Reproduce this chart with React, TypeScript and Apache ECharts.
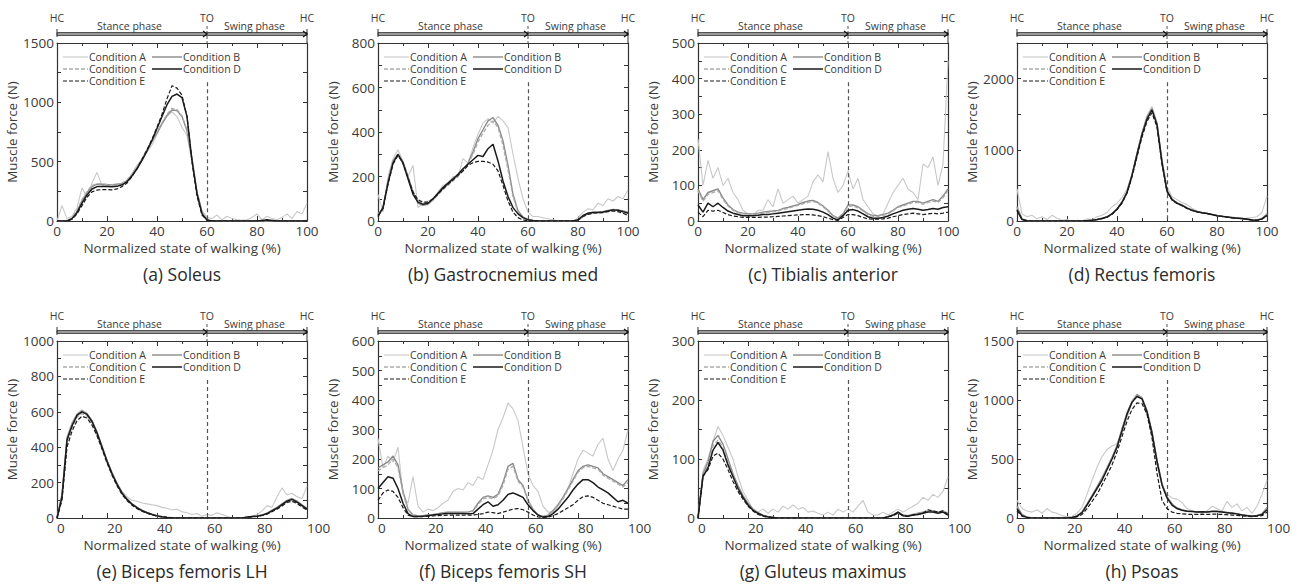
import React, { useEffect, useRef } from 'react';
import * as echarts from 'echarts';

const X = [0, 2, 4, 6, 8, 10, 12, 14, 16, 18, 20, 22, 24, 26, 28, 30, 32, 34, 36, 38, 40, 42, 44, 46, 48, 50, 52, 54, 56, 58, 60, 62, 64, 66, 68, 70, 72, 74, 76, 78, 80, 82, 84, 86, 88, 90, 92, 94, 96, 98, 100];
const NAMES = ['Condition A', 'Condition B', 'Condition C', 'Condition D', 'Condition E'];
const TITLES = ['(a) Soleus', '(b) Gastrocnemius med', '(c) Tibialis anterior', '(d) Rectus femoris', '(e) Biceps femoris LH', '(f) Biceps femoris SH', '(g) Gluteus maximus', '(h) Psoas'];
const Y_MAX = [1500, 800, 500, 2500, 1000, 600, 300, 1500];
const Y_TICK = [250, 100, 50, 500, 100, 50, 50, 125];
const Y_LABEL = [500, 200, 100, 1000, 200, 100, 100, 500];
const TO_AT = 60;
const X_NAME = 'Normalized state of walking (%)';
const Y_NAME = 'Muscle force (N)';

// (a) Soleus
const SOL_A = [0,130,20,40,110,280,200,320,410,300, 300,290,300,320,330,400,470,520,580,640, 730,820,880,920,880,790,720,500,250,90, 30,20,50,10,40,20,10,5,10,30, 60,10,40,20,10,30,60,20,80,60, 150];
const SOL_B = [0,0,0,20,80,170,240,290,310,310, 305,305,310,315,340,390,450,520,600,670, 740,820,890,935,930,880,760,520,240,70, 10,0,0,0,0,0,0,0,0,0, 0,0,0,0,0,0,0,0,0,0, 5];
const SOL_C = [0,0,5,25,90,180,250,300,315,312, 308,305,310,318,345,395,455,525,600,675, 750,830,900,950,940,885,770,530,250,75, 12,2,0,0,0,0,0,0,0,0, 0,0,0,0,0,0,0,0,0,0, 5];
const SOL_D = [0,0,0,20,70,150,220,270,290,290, 290,288,292,305,330,380,440,510,590,680, 780,880,980,1050,1070,1040,880,510,230,60, 8,0,0,0,0,0,0,0,0,0, 0,5,10,5,0,0,0,0,0,0, 0];
const SOL_E = [0,0,0,15,60,130,200,245,260,265, 265,262,270,290,320,375,440,520,600,690, 790,900,1030,1140,1120,1060,880,500,210,50, 5,0,0,0,0,0,0,0,0,0, 0,0,5,0,0,0,0,0,0,0, 0];

// (b) Gastrocnemius med
const GAS_A = [120,40,200,280,320,270,200,250,60,80, 90,95,130,160,170,200,200,280,260,330, 390,440,460,440,470,450,420,300,190,100, 40,20,20,15,10,5,0,0,0,0, 15,40,55,50,80,70,100,90,110,100, 140];
const GAS_B = [30,60,180,270,300,265,200,130,80,70, 75,95,120,145,165,185,205,230,260,310, 370,410,450,465,430,360,250,120,45,18, 5,2,0,0,0,0,0,0,0,0, 5,20,35,40,40,42,48,52,50,45, 40];
const GAS_C = [30,60,175,265,295,260,200,135,90,80, 80,95,118,140,160,180,200,225,255,300, 355,395,430,450,420,340,230,110,40,15, 5,2,0,0,0,0,0,0,0,0, 5,18,32,38,40,40,45,50,48,42, 38];
const GAS_D = [20,60,170,260,300,260,190,120,85,75, 80,100,125,150,170,190,210,235,255,275, 295,290,325,345,270,180,110,60,32,15, 6,2,0,0,0,0,0,0,0,0, 5,25,35,38,38,40,45,50,48,42, 35];
const GAS_E = [25,55,165,255,295,260,195,130,95,85, 85,100,120,145,165,185,205,225,250,262, 268,268,265,255,225,160,90,40,15,5, 0,0,0,0,0,0,0,0,0,0, 5,20,30,35,36,38,42,45,42,35, 25];

// (c) Tibialis anterior
const TIB_A = [230,100,170,120,150,100,120,80,60,30, 20,15,30,30,60,40,90,50,60,70, 50,60,70,110,130,110,195,120,80,100, 140,90,120,60,40,20,15,20,50,80, 100,120,90,80,60,160,150,180,100,160, 450];
const TIB_B = [90,60,80,85,90,65,45,32,25,22, 20,20,22,25,27,28,30,35,38,42, 46,52,56,58,52,42,30,15,8,20, 45,45,40,30,20,15,15,18,22,30, 40,45,50,55,55,50,55,60,55,70, 90];
const TIB_C = [85,55,75,80,85,60,42,30,23,20, 18,18,20,22,24,26,28,32,35,40, 44,48,52,55,50,40,28,14,7,18, 42,42,37,28,18,13,13,16,20,28, 38,42,47,52,52,47,52,56,52,65, 85];
const TIB_D = [45,25,50,40,50,38,28,22,18,15, 15,15,16,18,18,20,22,24,26,28, 30,32,34,33,30,25,18,8,3,15, 30,32,28,20,12,8,8,10,14,20, 25,30,33,35,33,30,32,35,33,38, 40];
const TIB_E = [25,12,30,28,30,24,18,14,12,10, 10,10,10,11,11,12,13,14,15,16, 17,18,18,17,15,12,8,4,2,10, 18,18,15,10,6,5,5,6,8,12, 15,18,20,22,20,18,20,22,20,22, 25];

// (d) Rectus femoris
const REC_A = [450,100,60,80,30,60,20,80,40,10, 20,0,10,0,30,20,60,80,120,200, 250,330,450,650,960,1250,1480,1610,1380,880, 480,340,300,260,230,180,140,120,110,90, 80,60,50,60,40,30,40,50,60,120, 350];
const REC_B = [200,30,5,0,0,0,0,0,0,0, 0,0,0,0,5,10,22,38,60,105, 170,270,410,650,950,1230,1460,1580,1370,830, 430,310,255,225,185,155,135,118,108,92, 78,68,58,48,42,36,28,18,12,35, 100];
const REC_C = [180,25,5,0,0,0,0,0,0,0, 0,0,0,0,5,10,22,36,58,102, 168,265,405,645,940,1220,1445,1570,1360,825, 425,305,252,222,182,152,132,116,106,91, 76,66,56,46,41,35,26,16,11,32, 90];
const REC_D = [150,20,5,0,0,0,0,0,0,0, 0,0,0,0,5,10,20,35,55,100, 165,260,400,640,930,1210,1430,1560,1350,820, 420,300,250,220,180,150,130,115,105,90, 75,65,55,45,40,35,25,15,10,30, 80];
const REC_E = [160,20,5,0,0,0,0,0,0,0, 0,0,0,0,5,10,18,32,52,95, 160,250,390,620,900,1180,1400,1520,1320,800, 410,295,245,215,175,148,128,112,102,88, 74,64,54,44,39,34,24,14,9,28, 75];

// (e) Biceps femoris LH
const BFL_A = [0,140,460,540,590,610,590,550,490,410, 330,260,200,150,120,100,95,85,80,75, 70,60,55,45,50,35,30,20,25,10, 20,15,30,20,10,0,0,0,5,10, 20,40,70,60,120,170,130,140,120,110, 180];
const BFL_B = [0,130,450,530,585,605,590,550,485,405, 325,255,195,145,108,80,60,44,32,22, 13,8,4,2,0,0,0,0,0,0, 0,0,0,0,0,0,0,0,5,8, 12,18,28,45,60,80,100,110,95,75, 55];
const BFL_C = [0,115,430,510,570,590,575,535,470,395, 318,248,188,138,103,76,56,40,28,19, 11,6,3,1,0,0,0,0,0,0, 0,0,0,0,0,0,0,0,4,7, 10,15,25,40,55,72,92,100,88,68, 48];
const BFL_D = [0,120,440,520,580,600,585,545,480,400, 320,250,190,140,105,78,58,42,30,20, 12,7,3,1,0,0,0,0,0,0, 0,0,0,0,0,0,0,0,5,8, 10,15,25,40,55,75,95,105,90,70, 50];
const BFL_E = [0,100,400,490,550,575,565,525,465,390, 312,242,182,133,98,72,53,38,27,18, 10,6,3,1,0,0,0,0,0,0, 0,0,0,0,0,0,0,0,4,6, 9,14,22,36,50,68,88,95,82,62, 45];

// (f) Biceps femoris SH
const BFS_A = [270,170,210,190,240,80,50,140,40,20, 30,25,35,50,60,90,100,95,120,110, 140,130,180,230,300,340,390,370,330,240, 150,110,90,40,20,20,40,70,100,150, 200,230,220,210,250,270,200,160,200,230, 300];
const BFS_B = [170,180,190,210,180,90,30,10,8,8, 10,12,15,18,20,20,20,20,20,25, 50,70,75,70,80,120,175,185,130,110, 60,30,10,5,10,25,45,70,100,130, 160,175,180,175,170,150,140,130,120,110, 130];
const BFS_C = [160,170,180,200,170,85,28,10,8,8, 10,12,14,17,19,19,19,19,19,23, 45,65,70,65,75,110,165,175,125,105, 58,28,9,5,9,23,42,65,95,125, 155,170,175,170,165,145,135,125,115,105, 120];
const BFS_D = [100,120,140,135,100,50,15,5,5,6, 8,10,12,14,15,15,15,15,14,15, 30,45,55,40,45,60,80,85,78,70, 45,25,10,3,5,15,30,50,70,95, 115,130,130,120,105,95,85,70,55,60, 50];
const BFS_E = [60,85,95,90,70,35,10,5,5,5, 6,7,8,9,10,10,10,10,10,10, 12,15,20,18,15,20,25,30,32,28, 20,10,4,2,3,8,15,25,35,45, 60,72,75,70,60,50,45,40,35,30, 30];

// (g) Gluteus maximus
const GLU_A = [0,80,100,130,155,140,120,100,70,45, 30,15,10,15,8,15,10,20,15,22, 15,18,10,12,8,5,10,5,15,10, 15,10,20,30,10,5,5,10,5,10, 15,10,15,20,25,35,30,40,35,45, 70];
const GLU_B = [0,75,95,130,140,125,100,75,55,38, 25,15,9,5,2,1,0,0,0,0, 0,0,0,0,0,0,0,0,0,0, 0,0,0,0,0,0,0,0,2,5, 10,5,4,6,8,10,12,12,10,12, 8];
const GLU_C = [0,72,90,122,132,120,95,72,52,36, 23,14,8,4,2,1,0,0,0,0, 0,0,0,0,0,0,0,0,0,0, 0,0,0,0,0,0,0,0,2,5, 9,4,4,6,7,9,11,11,9,11, 7];
const GLU_D = [0,70,85,115,128,115,90,70,50,35, 22,13,8,4,2,1,0,0,0,0, 0,0,0,0,0,0,0,0,0,0, 0,0,0,0,0,0,0,0,2,5, 10,4,3,5,6,8,10,10,8,10, 5];
const GLU_E = [0,72,82,105,110,100,82,62,45,32, 20,12,6,3,1,0,0,0,0,0, 0,0,0,0,0,0,0,0,0,0, 0,0,0,0,0,0,0,0,2,4, 8,4,3,5,6,8,14,12,10,12, 6];

// (h) Psoas
const PSO_A = [150,80,60,50,70,40,80,50,40,20, 10,15,40,90,200,320,430,520,580,610, 630,720,850,980,1050,1000,880,690,450,280, 200,170,160,130,80,60,50,40,60,100, 80,60,140,90,120,60,90,40,100,200, 320];
const PSO_B = [100,30,8,0,0,0,0,0,0,0, 0,5,18,50,120,190,265,340,425,515, 615,755,890,990,1045,1020,910,730,490,290, 180,120,85,68,60,57,52,54,52,57, 57,52,47,42,37,27,22,17,22,35, 90];
const PSO_C = [90,25,6,0,0,0,0,0,0,0, 0,5,16,47,115,185,258,330,418,508, 608,748,885,985,1040,1015,905,725,485,285, 175,115,82,66,58,56,51,53,51,56, 56,51,46,41,36,26,21,16,21,32, 80];
const PSO_D = [80,20,5,0,0,0,0,0,0,0, 0,5,15,45,110,180,250,320,410,500, 600,740,880,980,1030,1010,900,720,480,280, 170,110,80,65,58,55,50,52,50,55, 55,50,45,40,35,25,20,15,20,30, 70];
const PSO_E = [60,15,3,0,0,0,0,0,0,0, 0,3,10,30,80,140,200,280,360,450, 560,690,820,920,975,970,880,680,380,150, 80,50,40,35,32,30,30,32,30,32, 32,30,28,25,22,18,15,12,15,20, 50];

const PANEL_DATA = [
  [SOL_A, SOL_B, SOL_C, SOL_D, SOL_E],
  [GAS_A, GAS_B, GAS_C, GAS_D, GAS_E],
  [TIB_A, TIB_B, TIB_C, TIB_D, TIB_E],
  [REC_A, REC_B, REC_C, REC_D, REC_E],
  [BFL_A, BFL_B, BFL_C, BFL_D, BFL_E],
  [BFS_A, BFS_B, BFS_C, BFS_D, BFS_E],
  [GLU_A, GLU_B, GLU_C, GLU_D, GLU_E],
  [PSO_A, PSO_B, PSO_C, PSO_D, PSO_E],
];

const FONT = "'Open Sans', sans-serif";
const TXT = '#3a3a3a';
const AX = '#333333';
const LEFTS = [57, 378, 698, 1017];
const TOPS = [43, 341];
const HEIGHTS = [178, 177];
const W = 250;

const LINE_STYLES: any[] = [
  { color: '#c8c8c8', width: 1.1, type: 'solid' },
  { color: '#8a8a8a', width: 1.4, type: 'solid' },
  { color: '#acacac', width: 1.3, type: [4, 2] },
  { color: '#1a1a1a', width: 1.5, type: 'solid' },
  { color: '#1a1a1a', width: 1.2, type: [4, 2] },
];

function buildOption() {
  const grid: any[] = [];
  const xAxis: any[] = [];
  const yAxis: any[] = [];
  const series: any[] = [];
  const graphic: any[] = [];
  const axisLine = { show: true, onZero: false, lineStyle: { color: AX, width: 1.2 } };
  const tickStyle = { color: AX, width: 1 };

  for (let p = 0; p < 8; p++) {
    const col = p % 4;
    const row = Math.floor(p / 4);
    const left = LEFTS[col];
    const top = TOPS[row];
    const h = HEIGHTS[row];
    const bottom = top + h;
    grid.push({ left, top, width: W, height: h, containLabel: false });

    const xBase = {
      gridIndex: p, type: 'value', min: 0, max: 100, interval: 20,
      axisLine, splitLine: { show: false },
      axisTick: { show: true, inside: true, length: 5, lineStyle: tickStyle },
      minorTick: { show: true, splitNumber: 2, length: 3, lineStyle: tickStyle },
    };
    xAxis.push({
      ...xBase, position: 'bottom',
      axisLabel: { fontSize: 13.5, color: TXT, margin: 3, fontFamily: FONT, align: row === 1 ? 'left' : 'center' },
      name: X_NAME, nameLocation: 'middle', nameGap: 20,
      nameTextStyle: { fontSize: 13.5, color: TXT, fontFamily: FONT },
    });
    xAxis.push({ ...xBase, position: 'top', axisLabel: { show: false } });

    const yBase = {
      gridIndex: p, type: 'value', min: 0, max: Y_MAX[p], interval: Y_TICK[p],
      axisLine, splitLine: { show: false },
      axisTick: { show: true, inside: true, length: 4, lineStyle: tickStyle },
    };
    const labStep = Y_LABEL[p];
    yAxis.push({
      ...yBase, position: 'left',
      axisLabel: {
        fontSize: 13.5, color: TXT, margin: 3, fontFamily: FONT,
        formatter: (v: number) => (v % labStep === 0 ? String(v) : ''),
      },
      name: Y_NAME, nameLocation: 'middle', nameGap: 38,
      nameTextStyle: { fontSize: 13.5, color: TXT, fontFamily: FONT },
    });
    yAxis.push({ ...yBase, position: 'right', axisLabel: { show: false } });

    PANEL_DATA[p].forEach((arr, k) => {
      const s: any = {
        type: 'line', name: NAMES[k], xAxisIndex: 2 * p, yAxisIndex: 2 * p,
        data: X.map((x, i) => [x, arr[i]]),
        showSymbol: false, symbol: 'none', lineStyle: LINE_STYLES[k],
        itemStyle: { color: LINE_STYLES[k].color }, z: 2 + k,
      };
      if (k === 3) {
        s.markLine = {
          silent: true, symbol: ['none', 'none'], label: { show: false },
          lineStyle: { type: [4, 3], color: '#555', width: 1.2 },
          data: [[{ coord: [TO_AT, Y_MAX[p] * 0.78] }, { coord: [TO_AT, 0] }]],
        };
      }
      series.push(s);
    });

    // legend (drawn as graphic lines + texts, two columns)
    NAMES.forEach((name, k) => {
      const c = k % 2;
      const r = Math.floor(k / 2);
      const x1 = left + (c === 0 ? 6 : 95);
      const x2 = x1 + (c === 0 ? 25 : 30);
      const y = top + 14 + r * 12;
      const st = LINE_STYLES[k];
      graphic.push({
        type: 'line', shape: { x1, y1: y, x2, y2: y },
        style: { stroke: st.color, lineWidth: st.width, lineDash: Array.isArray(st.type) ? st.type : null },
      });
      graphic.push({
        type: 'text', x: x2 + 1, y,
        style: { text: name, fontSize: 10.5, lineHeight: 11, fill: TXT, fontFamily: FONT, textAlign: 'left', textVerticalAlign: 'middle' },
      });
    });

    // phase bar
    const tx = left + W * TO_AT / 100;
    const by = top - 9;
    graphic.push({ type: 'rect', shape: { x: left, y: by - 1.5, width: W, height: 3 }, style: { fill: '#9a9a9a', stroke: '#333', lineWidth: 0.8 } });
    graphic.push({ type: 'line', shape: { x1: left, y1: by - 5, x2: left, y2: by + 3 }, style: { stroke: '#333', lineWidth: 1 } });
    graphic.push({ type: 'line', shape: { x1: left + W, y1: by - 5, x2: left + W, y2: top }, style: { stroke: '#333', lineWidth: 1 } });
    graphic.push({ type: 'line', shape: { x1: tx, y1: by - 8, x2: tx, y2: top }, style: { stroke: '#555', lineWidth: 1, lineDash: [3, 2] } });
    graphic.push({ type: 'polyline', shape: { points: [[tx - 4, by - 3], [tx, by], [tx - 4, by + 3]] }, style: { stroke: '#111', lineWidth: 1.2, fill: 'none' } });
    graphic.push({ type: 'polyline', shape: { points: [[left + W - 4, by - 3], [left + W, by], [left + W - 4, by + 3]] }, style: { stroke: '#111', lineWidth: 1.2, fill: 'none' } });
    const small = (text: string, x: number, y: number) => ({
      type: 'text', x, y,
      style: { text, fontSize: 10.5, lineHeight: 11, fill: TXT, fontFamily: FONT, textAlign: 'center', textVerticalAlign: 'middle' },
    });
    graphic.push(small('HC', left, top - 25));
    graphic.push(small('TO', tx, top - 25));
    graphic.push(small('HC', left + W, top - 25));
    graphic.push(small('Stance phase', left + W * 0.29, top - 17));
    graphic.push(small('Swing phase', left + W * 0.79, top - 17));
    graphic.push({
      type: 'text', x: left + W / 2, y: bottom + 53,
      style: { text: TITLES[p], fontSize: 17.5, fill: '#2a2a2a', fontFamily: FONT, textAlign: 'center', textVerticalAlign: 'middle' },
    });
  }

  return { animation: false, backgroundColor: '#fff', grid, xAxis, yAxis, series, graphic };
}

export default function App() {
  const ref = useRef<HTMLDivElement>(null);
  useEffect(() => {
    const chart = echarts.init(ref.current as HTMLDivElement, undefined, { renderer: 'svg' });
    chart.setOption(buildOption() as any);
    return () => chart.dispose();
  }, []);
  return <div ref={ref} style={{ position: 'absolute', left: 0, top: 0, width: 1300, height: 588, background: '#fff' }} />;
}
